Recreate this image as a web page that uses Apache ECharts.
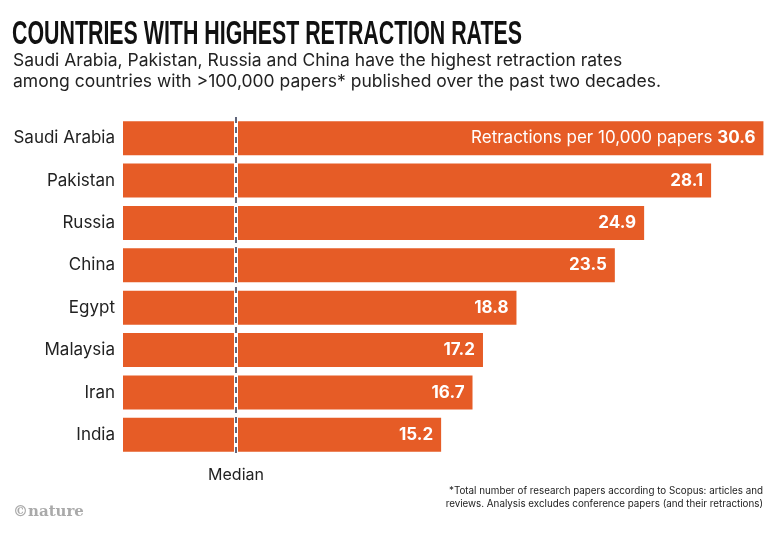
<!DOCTYPE html>
<html><head><meta charset="utf-8">
<script src="https://cdn.jsdelivr.net/npm/echarts@6/dist/echarts.min.js"></script>
<style>html,body{margin:0;padding:0;background:#fff}#c{width:779px;height:539px}</style>
</head><body><div id="c"></div>
<script>
const countries = ['Saudi Arabia','Pakistan','Russia','China','Egypt','Malaysia','Iran','India'];
const values = [30.6, 28.1, 24.9, 23.5, 18.8, 17.2, 16.7, 15.2];
const medianValue = 5.4;
const titleText = 'COUNTRIES WITH HIGHEST RETRACTION RATES';
const subtitleLines = ['Saudi Arabia, Pakistan, Russia and China have the highest retraction rates','among countries with >100,000 papers* published over the past two decades.'];
const footLines = ['*Total number of research papers according to Scopus: articles and','reviews. Analysis excludes conference papers (and their retractions)'];

function textWidth(t, font){const c=document.createElement('canvas').getContext('2d');c.font=font;return c.measureText(t).width;}
const titleFont = 'bold 33px "Liberation Sans"';
const titleScale = 510 / textWidth(titleText, titleFont);

const chart = echarts.init(document.getElementById('c'), null, {renderer:'canvas'});
const BAR = '#e65c26';
const F = 'Inter';
chart.setOption({
  animation:false,
  backgroundColor:'#fff',
  grid:{left:123, top:117, height:339, width:648.8, containLabel:false},
  xAxis:{type:'value', min:0, max:31, show:false},
  yAxis:{type:'category', data:countries, inverse:true,
    axisLine:{show:false}, axisTick:{show:false},
    axisLabel:{margin:8, fontSize:17, color:'#222', fontFamily:F}},
  series:[{
    type:'bar', data:values, barWidth:34, itemStyle:{color:BAR},
    label:{show:true, position:'insideRight', distance:8, color:'#fff',
      fontFamily:F, fontWeight:'bold', fontSize:17,
      formatter:p => p.dataIndex===0 ? '{n|Retractions per 10,000 papers }{b|'+p.value+'}' : '{b|'+p.value+'}',
      rich:{n:{fontSize:17, fontWeight:'normal', color:'#fff', fontFamily:F}, b:{fontSize:17, fontWeight:'bold', color:'#fff', fontFamily:F}}},
    markLine:{silent:true, symbol:['none','none'], label:{show:false},
      data:[
        {xAxis:medianValue, lineStyle:{color:'#fff', width:4, type:'solid'}},
        {xAxis:medianValue, lineStyle:{color:'#2c3550', width:1.5, type:[6,4]}}
      ]}
  }],
  graphic:[
    {type:'text', x:12, y:18, scaleX:titleScale, style:{text:titleText, font:titleFont, fill:'#111'}},
    {type:'text', x:13, y:50, style:{text:subtitleLines.join('\n'), fontFamily:F, fontSize:17.5, lineHeight:21, fill:'#222'}},
    {type:'text', x:236, y:467, style:{text:'Median', fontFamily:F, fontSize:16, fill:'#222', align:'center', textAlign:'center'}},
    {type:'text', right:16, top:485, style:{text:footLines.join('\n'), fontFamily:F, fontSize:9.8, lineHeight:13, fill:'#222', textAlign:'right'}},
    {type:'text', x:13, y:505, style:{text:'©nature', fontFamily:'DejaVu Serif', fontWeight:'bold', fontSize:15, fill:'#aaa'}}
  ]
});
</script></body></html>
